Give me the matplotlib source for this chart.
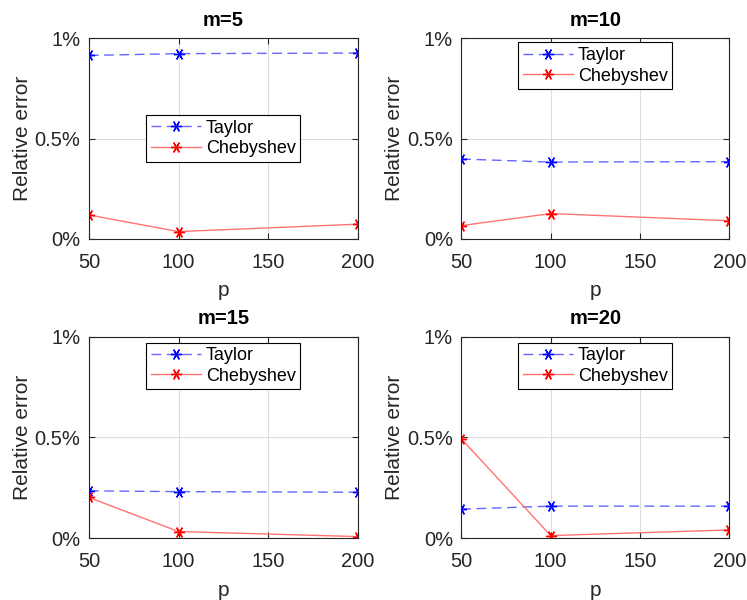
import numpy as np
import matplotlib
matplotlib.use('Agg')
from matplotlib import pyplot as plt

plt.rcParams['font.family'] = ['Liberation Sans', 'DejaVu Sans']

p = [50, 100, 200]
titles = ['m=5', 'm=10', 'm=15', 'm=20']
# relative error in percent
taylor = [
    [0.915, 0.924, 0.927],
    [0.398, 0.383, 0.385],
    [0.235, 0.231, 0.228],
    [0.144, 0.159, 0.159],
]
chebyshev = [
    [0.119, 0.036, 0.073],
    [0.066, 0.126, 0.090],
    [0.202, 0.033, 0.008],
    [0.493, 0.013, 0.041],
]
yticks = [0, 0.5, 1]
ytick_labels = ['0%', '0.5%', '1%']
xticks = [50, 100, 150, 200]

fig = plt.figure(figsize=(7.47, 6.0), dpi=100)

# axes rectangles [left, bottom, width, height]
rects = [
    [0.119, 0.602, 0.360, 0.334],
    [0.6175, 0.602, 0.359, 0.334],
    [0.119, 0.103, 0.360, 0.336],
    [0.6175, 0.103, 0.359, 0.336],
]
legend_locs = [
    ('center', (0.5, 0.5)),
    ('upper center', (0.5, 0.98)),
    ('upper center', (0.5, 0.97)),
    ('upper center', (0.5, 0.97)),
]

txt = '#262626'
asterisk = (6, 2, 30)
for i in range(4):
    ax = fig.add_axes(rects[i])
    ax.plot(p, taylor[i], '--', color=(0.4, 0.4, 1.0), lw=1.0, dashes=(7, 4),
            marker=asterisk, markersize=8, markeredgewidth=1.0,
            markeredgecolor='b', markerfacecolor='b', label='Taylor')
    ax.plot(p, chebyshev[i], '-', color=(1.0, 0.45, 0.45), lw=1.0,
            marker=asterisk, markersize=8, markeredgewidth=1.0,
            markeredgecolor='r', markerfacecolor='r', label='Chebyshev')
    ax.set_xlim(50, 200)
    ax.set_ylim(0, 1)
    ax.set_xticks(xticks)
    ax.set_yticks(yticks)
    ax.set_yticklabels(ytick_labels)
    ax.grid(True, color='#dcdcdc', lw=0.8)
    ax.set_axisbelow(True)
    ax.tick_params(direction='in', length=4, labelsize=14.5, colors=txt,
                   top=True, right=True)
    ax.tick_params(axis='x', pad=10)
    ax.tick_params(axis='y', pad=6)
    for s in ax.spines.values():
        s.set_color(txt)
        s.set_linewidth(0.8)
    ax.set_xlabel('p', fontsize=15, color=txt, labelpad=7)
    ax.set_ylabel('Relative error', fontsize=15, color=txt, labelpad=2)
    ax.set_title(titles[i], fontsize=14.5, fontweight='bold', color='black', pad=9)
    loc, anchor = legend_locs[i]
    leg = ax.legend(loc=loc, bbox_to_anchor=anchor, fontsize=13, fancybox=False,
                    framealpha=1, edgecolor='black', borderpad=0.25, handlelength=2.8,
                    labelspacing=0.2, handletextpad=0.25, borderaxespad=0)
    leg.get_frame().set_linewidth(0.8)

fig.savefig('out.png', dpi=100, facecolor='white')
